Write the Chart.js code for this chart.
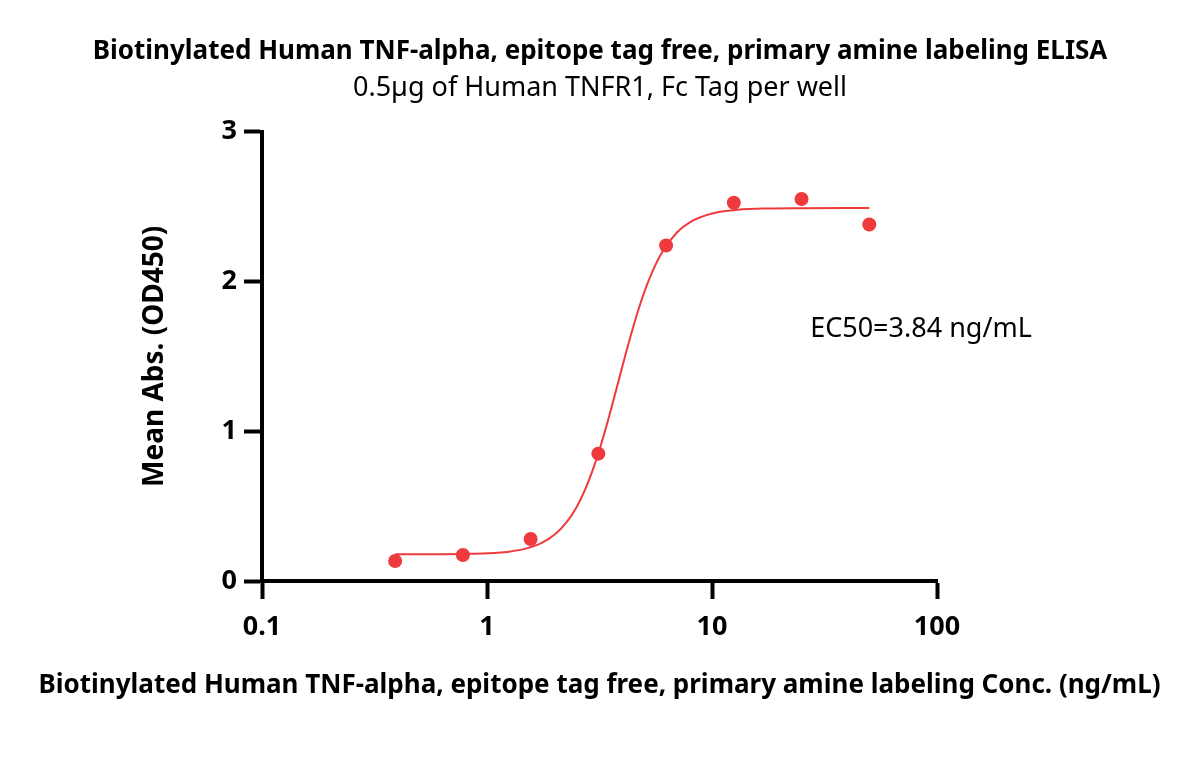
<!DOCTYPE html>
<html>
<head>
<meta charset="utf-8">
<title>TNF-alpha ELISA</title>
<script src="https://cdn.jsdelivr.net/npm/chart.js@4.4.1/dist/chart.umd.min.js"></script>
<style>
  body { margin: 0; background: #fff; }
  canvas { display: block; }
</style>
</head>
<body>
<canvas id="elisaChart" width="1200" height="772"></canvas>
<script>
    // Measured points (ng/mL vs OD450)
    const concentrations = [0.390625, 0.78125, 1.5625, 3.125, 6.25, 12.5, 25, 50];
    const absorbance = [0.134, 0.174, 0.28, 0.85, 2.24, 2.525, 2.55, 2.38];

    // Fitted curve
    const curveX = [0.39, 0.6, 0.8, 1.0, 1.25, 1.5, 1.75, 2.0, 2.25, 2.5, 2.75, 3.0, 3.25, 3.5, 3.84,
                    4.25, 4.75, 5.25, 6.0, 7.0, 8.0, 10, 13, 18, 25, 50];
    const curveY = [0.178, 0.179, 0.181, 0.185, 0.196, 0.218, 0.254, 0.31, 0.389, 0.493, 0.622, 0.772, 0.936, 1.107, 1.334,
                    1.582, 1.829, 2.012, 2.194, 2.328, 2.396, 2.453, 2.478, 2.487, 2.489, 2.49];

    const xTicks = [0.1, 1, 10, 100];
    const yTicks = [0, 1, 2, 3];

    const titleText = 'Biotinylated Human TNF-alpha, epitope tag free, primary amine labeling ELISA';
    const subtitleText = '0.5µg of Human TNFR1, Fc Tag per well';
    const xTitle = 'Biotinylated Human TNF-alpha, epitope tag free, primary amine labeling Conc. (ng/mL)';
    const yTitle = 'Mean Abs. (OD450)';
    const ec50Label = 'EC50=3.84 ng/mL';

    const red = '#ee3a3c';
    const fontFamily = '"Noto Sans", "Open Sans", sans-serif';

    // EC50 note and the long x title (the scale title would get squeezed to the axis width)
    const textPlugin = {
      id: 'extraText',
      afterDraw(chart) {
        const ctx = chart.ctx;
        const area = chart.chartArea;
        ctx.save();
        ctx.fillStyle = '#000';
        ctx.textBaseline = 'middle';

        ctx.font = '27px ' + fontFamily;
        ctx.textAlign = 'left';
        ctx.fillText(ec50Label, chart.scales.x.getPixelForValue(27.3), chart.scales.y.getPixelForValue(1.68));

        ctx.font = 'bold 26px ' + fontFamily;
        ctx.textAlign = 'center';
        ctx.fillText(xTitle, (area.left + area.right) / 2, area.bottom + 105);
        ctx.restore();
      }
    };

    const ctx = document.getElementById('elisaChart').getContext('2d');
    const chart = new Chart(ctx, {
      type: 'scatter',
      data: {
        datasets: [
          {
            label: 'Mean Abs.',
            data: concentrations.map((c, i) => ({ x: c, y: absorbance[i] })),
            backgroundColor: red,
            borderWidth: 0,
            pointRadius: 7,
            showLine: false
          },
          {
            label: 'Fit',
            data: curveX.map((c, i) => ({ x: c, y: curveY[i] })),
            borderColor: red,
            borderWidth: 2,
            pointRadius: 0,
            showLine: true,
            cubicInterpolationMode: 'monotone'
          }
        ]
      },
      options: {
        responsive: false,
        animation: false,
        layout: { padding: 0 },
        plugins: {
          legend: { display: false },
          tooltip: { enabled: false },
          title: {
            display: true,
            text: titleText,
            color: '#000',
            font: { family: fontFamily, size: 26, weight: 'bold' },
            padding: { top: 36, bottom: 0 }
          },
          subtitle: {
            display: true,
            text: subtitleText,
            color: '#000',
            font: { family: fontFamily, size: 27, weight: 'normal' },
            padding: { top: 5, bottom: 27 }
          }
        },
        scales: {
          x: {
            type: 'logarithmic',
            min: 0.1,
            max: 100,
            afterFit: s => { s.height = 191; },
            afterBuildTicks: s => { s.ticks = xTicks.map(v => ({ value: v })); },
            grid: { drawOnChartArea: false, drawTicks: true, tickLength: 18, tickWidth: 4, tickColor: '#000' },
            border: { display: true, color: '#000', width: 4 },
            ticks: {
              color: '#000',
              padding: 12,
              maxRotation: 0,
              font: { family: fontFamily, size: 27, weight: 'bold' },
              callback: v => String(v)
            }
          },
          y: {
            min: 0,
            max: 3,
            afterFit: s => { s.width = 262; },
            afterBuildTicks: s => { s.ticks = yTicks.map(v => ({ value: v })); },
            grid: { drawOnChartArea: false, drawTicks: true, tickLength: 18, tickWidth: 4, tickColor: '#000' },
            border: { display: true, color: '#000', width: 4 },
            ticks: {
              color: '#000',
              padding: 7,
              font: { family: fontFamily, size: 27, weight: 'bold' }
            },
            title: {
              display: true,
              text: yTitle,
              color: '#000',
              font: { family: fontFamily, size: 28, weight: 'bold' },
              padding: { top: 138, bottom: 0 }
            }
          },
          // empty right-hand box so the plot sits where it does in the original
          spacer: {
            type: 'linear',
            position: 'right',
            display: true,
            afterFit: s => { s.width = 263; },
            grid: { display: false, drawOnChartArea: false },
            border: { display: false },
            ticks: { display: false }
          }
        }
      },
      plugins: [textPlugin]
    });
</script>
</body>
</html>
